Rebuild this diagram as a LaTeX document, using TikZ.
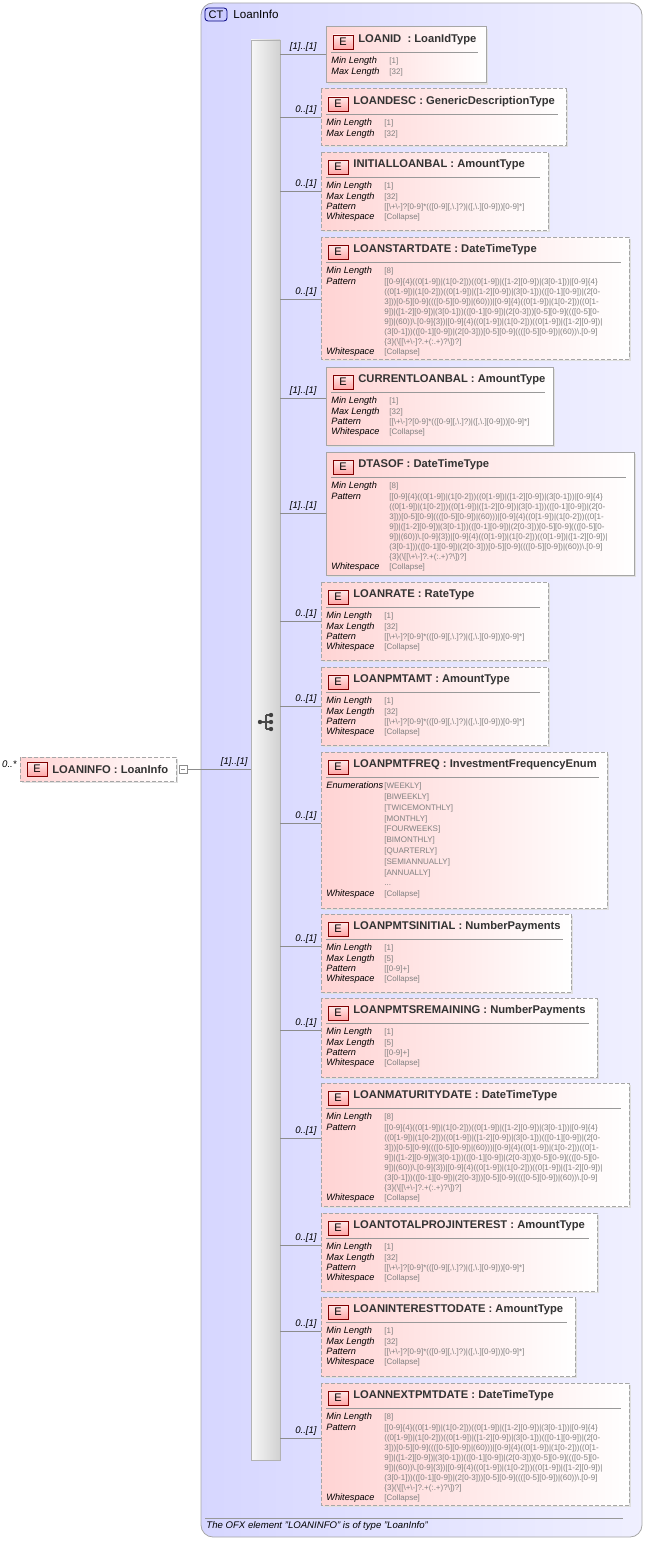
\documentclass[tikz,border=0pt]{standalone}
\usepackage{fontspec}
\setmainfont{Liberation Sans}
\usepackage{array}
\newcommand\bs{\textbackslash}
\newcommand\lbl[1]{{\fontsize{4.6}{5.2}\selectfont\itshape #1}}
\newcommand\val[1]{{\fontsize{4}{5.2}\selectfont\color{black!50}#1}}
\newcommand\lenrows[2]{\lbl{Min Length}&\val{[#1]}\\\lbl{Max Length}&\val{[#2]}}
\newcommand\wsrow{\lbl{Whitespace}&\val{[Collapse]}}
\newcommand\amtrows{\lenrows{1}{32}\\\lbl{Pattern}&\val{[[\bs+\bs-]?[0-9]*(([0-9][,\bs.]?)|([,\bs.][0-9]))[0-9]*]}\\\wsrow}
\newcommand\numrows{\lenrows{1}{5}\\\lbl{Pattern}&\val{[[0-9]+]}\\\wsrow}
\newcommand\dtrows{\lbl{Min Length}&\val{[8]}\\
\lbl{Pattern}&\val{[[0-9]\{4\}((0[1-9])|(1[0-2]))((0[1-9])|([1-2][0-9])|(3[0-1]))|[0-9]\{4\}}\\[-0.2pt]
&\val{((0[1-9])|(1[0-2]))((0[1-9])|([1-2][0-9])|(3[0-1]))(([0-1][0-9])|(2[0-}\\[-0.2pt]
&\val{3]))[0-5][0-9]((([0-5][0-9])|(60)))|[0-9]\{4\}((0[1-9])|(1[0-2]))((0[1-}\\[-0.2pt]
&\val{9])|([1-2][0-9])|(3[0-1]))(([0-1][0-9])|(2[0-3]))[0-5][0-9]((([0-5][0-}\\[-0.2pt]
&\val{9])|(60))\bs.[0-9]\{3\})|[0-9]\{4\}((0[1-9])|(1[0-2]))((0[1-9])|([1-2][0-9])|}\\[-0.2pt]
&\val{(3[0-1]))(([0-1][0-9])|(2[0-3]))[0-5][0-9]((([0-5][0-9])|(60))\bs.[0-9]}\\[-0.2pt]
&\val{\{3\}(\bs[[\bs+\bs-]?.+(:.+)?\bs])?]}\\
\wsrow}
\tikzset{
 conn/.style={draw=black!45,line width=0.4pt},
 mult/.style={font=\fontsize{4.8}{5}\selectfont\itshape,inner sep=1pt},
 boxfill/.style={left color=red!17,right color=white,draw=black!35,line width=0.5pt},
 dsh/.style={dash pattern=on 2pt off 1pt},
 sld/.style={},
 badge/.style={draw=red!50!black,top color=red!8,bottom color=red!35,minimum width=10pt,minimum height=7pt,inner sep=0pt,font=\fontsize{5.5}{6}\selectfont},
 ttl/.style={font=\fontsize{5.6}{6}\selectfont\bfseries,text=black!80,inner sep=0pt},
 sep/.style={draw=black!40,line width=0.4pt},
}
% #1 x1 #2 y1 #3 x2 #4 y2 #5 cy #6 style #7 mult #8 title #9 rows
\newcommand\EBox[9]{%
 \draw[conn] (280,#5) -- (#1,#5);
 \node[mult,anchor=south east] at (319,#5) {#7};
 \fill[black!12] (#1+2,#2+2) rectangle (#3+2,#4+2);
 \path[boxfill,#6] (#1,#2) rectangle (#3,#4);
 \node[badge] at (#1+17,#2+15) {E};
 \node[ttl,anchor=west] at (#1+32,#2+13) {#8};
 \draw[sep] (#1+5,#2+25) -- (#3-8,#2+25);
 \node[anchor=north west,inner sep=0pt] at (#1+5,#2+29)
  {\fontsize{4.6}{5.2}\selectfont\renewcommand\arraystretch{1}\begin{tabular}{@{}p{29pt}@{}l@{}}#9\end{tabular}};
}
\begin{document}
\begin{tikzpicture}[x=0.5pt,y=-0.5pt]
\useasboundingbox (0,0) rectangle (647,1541);
% outer complex type
\path[left color=blue!16,right color=blue!6,draw=black!35,rounded corners=6pt] (201,3) rectangle (642,1537);
\node[draw=blue!50!black,fill=blue!20,rounded corners=1.5pt,minimum width=11pt,minimum height=6.5pt,inner sep=0pt,font=\fontsize{5.5}{6}\selectfont] (ct) at (216,14.5) {CT};
\node[anchor=west,inner sep=0pt,font=\fontsize{5.8}{6}\selectfont] (ctname) at (233,14) {LoanInfo};
\draw[black!40] (205,1518) -- (623,1518);
\node[anchor=west,inner sep=0pt,font=\fontsize{4.8}{5}\selectfont\itshape] (foot) at (206,1526) {The OFX element "LOANINFO" is of type "LoanInfo"};
% sequence bar
\path[left color=black!3,right color=black!18,draw=black!30] (251,40) rectangle (280,1460);
% root element
\fill[black!12] (22,759) rectangle (178,783);
\path[boxfill,dsh] (20,757) rectangle (176,781);
\node[badge] (rb) at (37,769) {E};
\node[ttl,anchor=west] (root) at (52,769) {LOANINFO : LoanInfo};
\node[mult,anchor=east] (rm) at (19,764) {0..*};
\draw[black!45,fill=white] (179,765) rectangle (187,773);
\draw[black!45] (181,769) -- (185,769);
\draw[conn] (187,769) -- (251,769);
\node[mult,anchor=south east] (sm) at (250,769) {[1]..[1]};
% sequence icon
\draw[black!70,line width=0.6pt] (260,722) -- (266,722) (266,715) -- (266,729) (266,715) -- (271,715) (266,729) -- (271,729) (266,722) -- (271,722);
\foreach \yy in {715,722,729} \fill[black!75] (271,\yy) circle (2.2);
\fill[black!75] (260,722) circle (2.2);
% children
\EBox{326}{27}{486}{83}{54}{sld}{[1]..[1]}{LOANID \ : LoanIdType}{\lenrows{1}{32}}
\EBox{321}{89}{566}{145}{117}{dsh}{0..[1]}{LOANDESC : GenericDescriptionType}{\lenrows{1}{32}}
\EBox{321}{152}{548}{230}{191}{dsh}{0..[1]}{INITIALLOANBAL : AmountType}{\amtrows}
\EBox{321}{237}{629}{359}{299}{dsh}{0..[1]}{LOANSTARTDATE : DateTimeType}{\dtrows}
\EBox{326}{367}{553}{445}{398}{sld}{[1]..[1]}{CURRENTLOANBAL : AmountType}{\amtrows}
\EBox{326}{452}{634}{575}{513}{sld}{[1]..[1]}{DTASOF : DateTimeType}{\dtrows}
\EBox{321}{582}{548}{660}{621}{dsh}{0..[1]}{LOANRATE : RateType}{\amtrows}
\EBox{321}{667}{548}{745}{706}{dsh}{0..[1]}{LOANPMTAMT : AmountType}{\amtrows}
\EBox{321}{752}{607}{908}{823}{dsh}{0..[1]}{LOANPMTFREQ : InvestmentFrequencyEnum}{\lbl{Enumerations}&\val{[WEEKLY]}\\[0.2pt]&\val{[BIWEEKLY]}\\[0.2pt]&\val{[TWICEMONTHLY]}\\[0.2pt]&\val{[MONTHLY]}\\[0.2pt]&\val{[FOURWEEKS]}\\[0.2pt]&\val{[BIMONTHLY]}\\[0.2pt]&\val{[QUARTERLY]}\\[0.2pt]&\val{[SEMIANNUALLY]}\\[0.2pt]&\val{[ANNUALLY]}\\[0.2pt]&\val{...}\\[0.2pt]\wsrow}
\EBox{321}{914}{571}{992}{946}{dsh}{0..[1]}{LOANPMTSINITIAL : NumberPayments}{\numrows}
\EBox{321}{998}{597}{1077}{1030}{dsh}{0..[1]}{LOANPMTSREMAINING : NumberPayments}{\numrows}
\EBox{321}{1083}{629}{1206}{1138}{dsh}{0..[1]}{LOANMATURITYDATE : DateTimeType}{\dtrows}
\EBox{321}{1213}{597}{1291}{1245}{dsh}{0..[1]}{LOANTOTALPROJINTEREST : AmountType}{\amtrows}
\EBox{321}{1297}{575}{1376}{1331}{dsh}{0..[1]}{LOANINTERESTTODATE : AmountType}{\amtrows}
\EBox{321}{1383}{629}{1505}{1438}{dsh}{0..[1]}{LOANNEXTPMTDATE : DateTimeType}{\dtrows}
\end{tikzpicture}
\end{document}
